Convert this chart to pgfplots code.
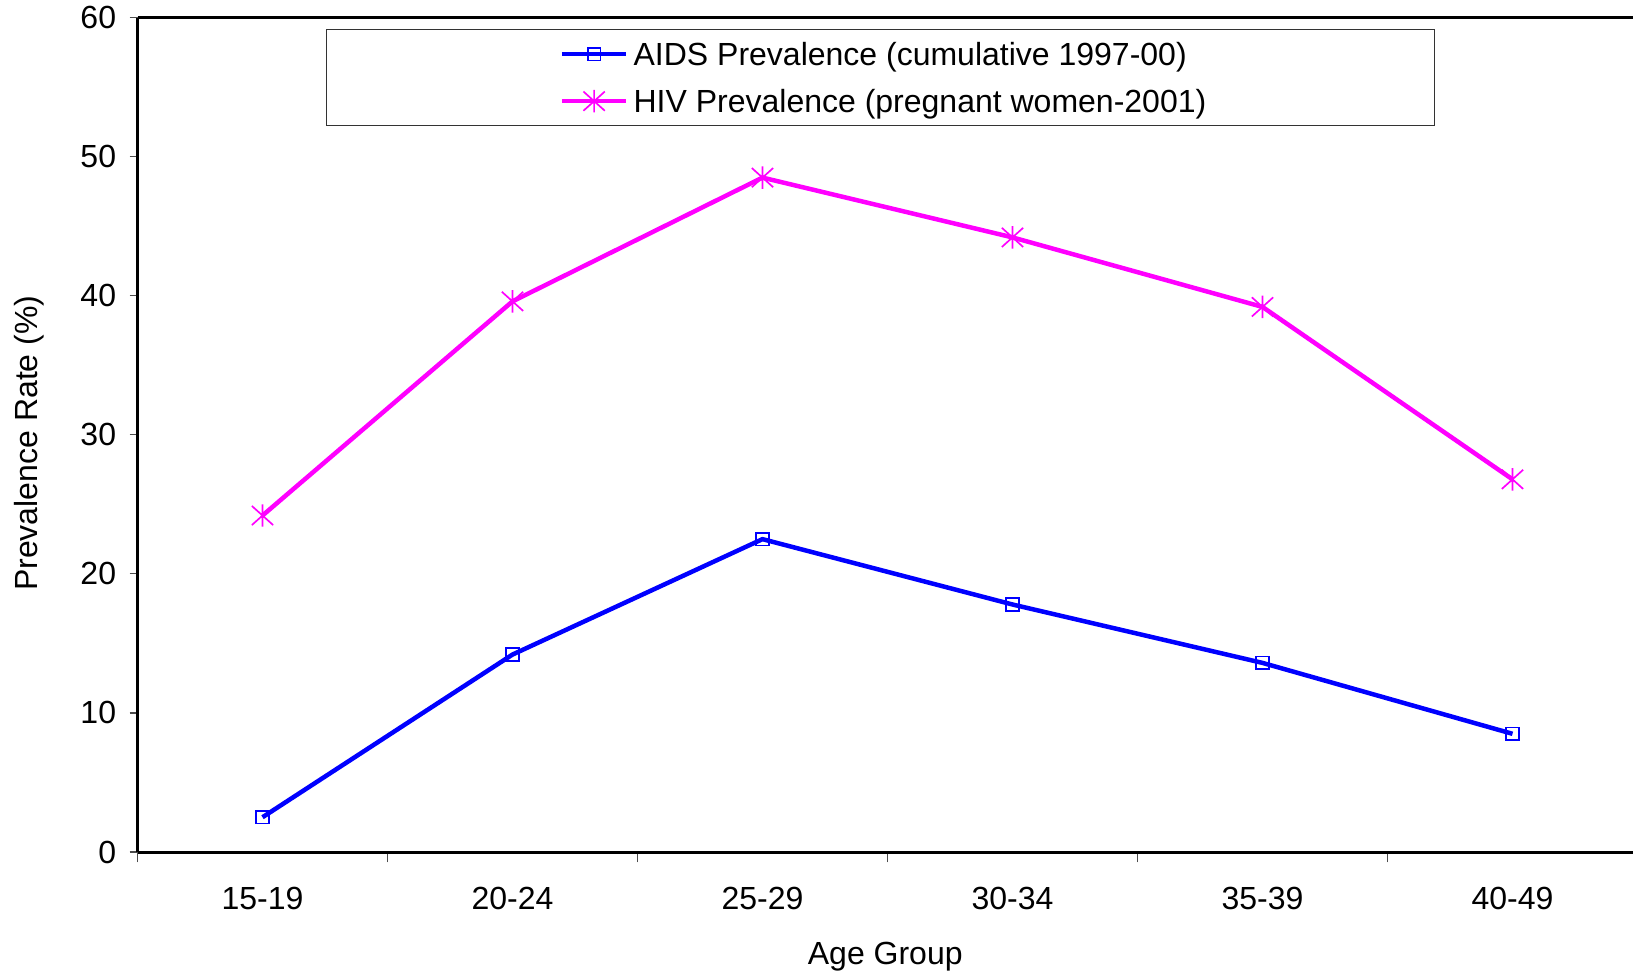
\documentclass[border=0pt]{standalone}
\usepackage{pgfplots}
\pgfplotsset{compat=1.18}
\usepackage{fontspec}
\setmainfont{Liberation Sans}

% asterisk made of a vertical bar and a cross
\pgfdeclareplotmark{xstar}{%
  \pgfpathmoveto{\pgfqpoint{0pt}{1.05\pgfplotmarksize}}%
  \pgfpathlineto{\pgfqpoint{0pt}{-1.05\pgfplotmarksize}}%
  \pgfpathmoveto{\pgfqpoint{-\pgfplotmarksize}{-0.9\pgfplotmarksize}}%
  \pgfpathlineto{\pgfqpoint{\pgfplotmarksize}{0.9\pgfplotmarksize}}%
  \pgfpathmoveto{\pgfqpoint{-\pgfplotmarksize}{0.9\pgfplotmarksize}}%
  \pgfpathlineto{\pgfqpoint{\pgfplotmarksize}{-0.9\pgfplotmarksize}}%
  \pgfusepathqstroke}

\definecolor{aidsblue}{RGB}{0,0,255}
\definecolor{hivmagenta}{RGB}{255,0,255}

\pgfplotstableread{
x aids hiv
0 2.5  24.2
1 14.2 39.6
2 22.5 48.5
3 17.8 44.2
4 13.6 39.2
5 8.5  26.8
}\prevtable

\begin{document}
\begin{tikzpicture}
\begin{axis}[
  name=ax,
  scale only axis,
  width=448.65pt, height=250.29pt,
  axis lines=left,
  axis line style={-, line width=0.9pt, black},
  xmin=-0.5, xmax=5.482,
  ymin=0, ymax=60,
  ytick={0,10,...,60},
  xtick={0,...,5},
  xticklabels={15-19,20-24,25-29,30-34,35-39,40-49},
  minor xtick={-0.5,0.5,...,4.5},
  tick align=outside,
  major tick length=2.4pt,
  minor tick length=3.1pt,
  major x tick style={draw=none},
  tick style={black!70, line width=0.35pt},
  /pgf/number format/assume math mode=true,
  tick label style={font=\fontsize{9.6pt}{11.5pt}\selectfont},
  xticklabel style={anchor=base, yshift=-14.8pt},
  yticklabel style={anchor=east, xshift=-0.5pt},
  label style={font=\fontsize{9.6pt}{11.5pt}\selectfont},
  xlabel={Age Group},
  ylabel={Prevalence Rate (\%)},
  xlabel style={at={(axis description cs:0.5,-0.126)}, anchor=center},
  ylabel style={at={(axis description cs:-0.0725,0.49)}, anchor=center, rotate=0},
  legend style={
    font=\fontsize{9.6pt}{11.5pt}\selectfont,
    at={(0.497,0.9865)}, anchor=north,
    draw=black!80, line width=0.3pt,
    inner xsep=67pt, inner ysep=0.85pt,
    row sep=1.0pt,
    legend cell align=left,
    nodes={inner xsep=1.5pt, text height=7.4pt, text depth=1.7pt},
    /tikz/every even column/.append style={column sep=0pt},
  },
  legend image code/.code={%
    \path (-0.1cm,0cm);
    \draw[mark repeat=2, mark phase=2] plot coordinates {(0cm,0cm) (0.34cm,0cm) (0.68cm,0cm)};},
]
\addplot[aidsblue, line width=1.35pt, mark=square,
  mark size=1.9pt, mark options={line width=0.5pt, solid}]
  table[x=x, y=aids] {\prevtable};
\addlegendentry{\raisebox{-0.6pt}{AIDS Prevalence (cumulative 1997-00)}}
\addplot[hivmagenta, line width=1.35pt, mark=xstar,
  mark size=3.2pt, mark options={line width=0.5pt, solid}]
  table[x=x, y=hiv] {\prevtable};
\addlegendentry{\raisebox{-0.6pt}{HIV Prevalence (pregnant women-2001)}}
\end{axis}
\draw[line width=0.9pt] (ax.north west) -- (ax.north east);
\pgfresetboundingbox
\path[use as bounding box] (-41.25pt,-36.9pt) rectangle (448.65pt,255.6pt);
\end{tikzpicture}
\end{document}
